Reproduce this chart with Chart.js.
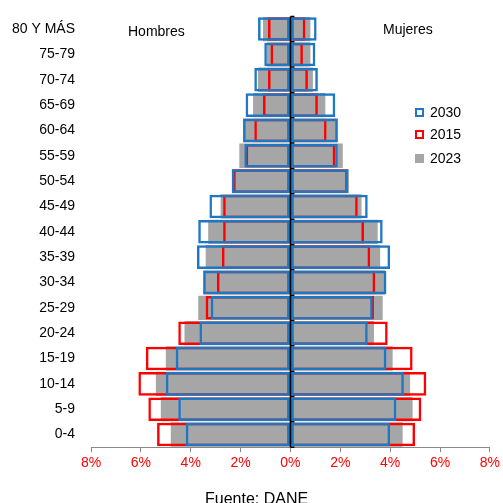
<!DOCTYPE html>
<html><head><meta charset="utf-8">
<script src="https://cdn.jsdelivr.net/npm/chart.js@4"></script>
<style>
body{margin:0;background:#fff;font-family:"Liberation Sans",Arial,sans-serif;}
#w{position:relative;width:503px;height:503px;}
.t{position:absolute;font-size:14px;color:#000;}
.lg{position:absolute;left:415px;font-size:14px;display:flex;align-items:center;}
.sw{width:9px;height:9px;margin-right:6px;box-sizing:border-box;}
</style></head><body>
<div id="w"><canvas id="c" width="503" height="503"></canvas>
<div class="t" style="left:128px;top:23px">Hombres</div>
<div class="t" style="left:383px;top:21px">Mujeres</div>
<div class="lg" style="top:104px"><div class="sw" style="border:2px solid #1f77c4"></div>2030</div>
<div class="lg" style="top:126px"><div class="sw" style="border:2px solid #ff0000"></div>2015</div>
<div class="lg" style="top:150px"><div class="sw" style="background:#a6a6a6"></div>2023</div>
<div class="t" style="left:205px;top:490px;font-size:16px">Fuente: DANE</div>
</div>
<script>
const categories=["80 Y MÁS","75-79","70-74","65-69","60-64","55-59","50-54","45-49","40-44","35-39","30-34","25-29","20-24","15-19","10-14","5-9","0-4"];
const men2023=[-1.1,-0.95,-1.3,-1.5,-1.9,-2.05,-2.35,-2.8,-3.3,-3.4,-3.5,-3.7,-4.25,-5.0,-5.4,-5.2,-4.8];
const women2023=[0.8,0.8,0.9,1.4,1.9,2.1,2.35,2.85,3.5,3.6,3.8,3.7,3.35,4.1,4.8,4.9,4.5];
const men2015=[-0.9,-0.8,-0.9,-1.1,-1.45,-1.8,-2.3,-2.7,-2.7,-2.75,-2.95,-3.4,-4.5,-5.8,-6.1,-5.7,-5.35];
const women2015=[0.6,0.5,0.7,1.1,1.45,1.8,2.3,2.7,2.95,3.2,3.4,3.35,3.9,4.9,5.45,5.25,5.0];
const men2030=[-1.3,-1.05,-1.45,-1.8,-1.9,-1.85,-2.35,-3.25,-3.7,-3.75,-3.5,-3.2,-3.65,-4.6,-5.0,-4.5,-4.2];
const women2030=[1.05,1.0,1.1,1.8,1.9,1.9,2.3,3.1,3.7,4.0,3.85,3.3,3.1,3.85,4.55,4.25,4.0];
const xTicks=[-8,-6,-4,-2,0,2,4,6,8];
const G='#a6a6a6',R='#ff0000',B='#1f77c4';
function ds(data,bg,bc,bw,order,cp){return {data,backgroundColor:bg,borderColor:bc,borderWidth:bw,borderSkipped:false,order,grouped:false,categoryPercentage:cp,barPercentage:1};}
new Chart(document.getElementById('c'),{type:'bar',
data:{labels:categories,datasets:[
ds(men2023,G,G,0,3,0.96),ds(women2023,G,G,0,3,0.96),
ds(men2015,'rgba(0,0,0,0)',R,2.5,2,0.93),ds(women2015,'rgba(0,0,0,0)',R,2.5,2,0.93),
ds(men2030,'rgba(0,0,0,0)',B,2.5,1,0.93),ds(women2030,'rgba(0,0,0,0)',B,2.5,1,0.93)]},
options:{indexAxis:'y',responsive:false,animation:false,
layout:{padding:{top:8,right:12,bottom:28,left:0}},
plugins:{legend:{display:false},tooltip:{enabled:false}},
scales:{x:{min:-8,max:8,afterBuildTicks:a=>{a.ticks=xTicks.map(v=>({value:v}));},
ticks:{color:'#ff0000',font:{size:14,family:'Liberation Sans'},callback:v=>Math.abs(v)+'%'},
grid:{drawOnChartArea:false,drawTicks:true,tickLength:5,color:'#888'},border:{color:'#888'}},
y:{afterFit:s=>{s.width=91;},ticks:{color:'#000',font:{size:14,family:'Liberation Sans'},padding:8},
grid:{display:false},border:{display:false}}}},
plugins:[{id:'mid',afterDatasetsDraw(ch){const xs=ch.scales.x,ys=ch.scales.y,x=xs.getPixelForValue(0),a=ch.chartArea,c=ch.ctx;c.save();c.strokeStyle='#000';c.lineWidth=1.5;c.beginPath();c.moveTo(x,a.top);c.lineTo(x,a.bottom);
for(let i=0;i<=categories.length;i++){const y=ys.getPixelForValue(i-0.5);c.moveTo(x,y);c.lineTo(x+4,y);}c.stroke();c.restore();}}]
});
</script></body></html>
